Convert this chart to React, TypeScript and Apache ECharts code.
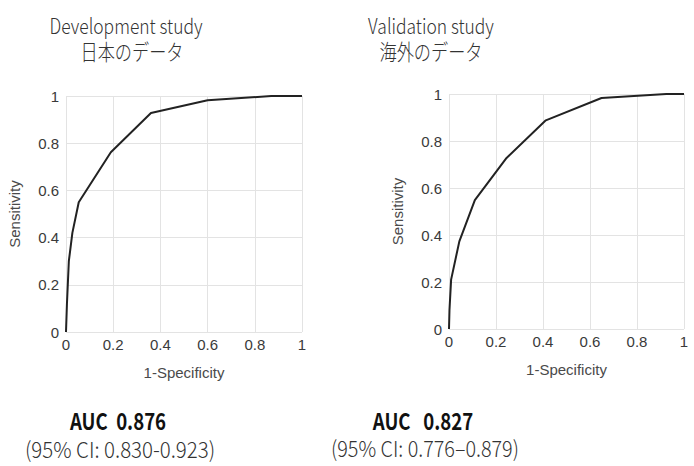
import React, { useEffect, useRef } from "react";
import * as echarts from "echarts";

const devX = [0, 0.004, 0.012, 0.027, 0.054, 0.19, 0.36, 0.6, 0.87, 1];
const devY = [0, 0.12, 0.3, 0.42, 0.55, 0.762, 0.928, 0.982, 1, 1];
const valX = [0, 0.002, 0.009, 0.044, 0.11, 0.245, 0.412, 0.649, 0.925, 1];
const valY = [0, 0.08, 0.21, 0.373, 0.548, 0.728, 0.888, 0.983, 1, 1];

const titles = [
  ["Development study", "日本のデータ"],
  ["Validation study", "海外のデータ"],
];
const aucLabels = ["AUC  0.876", "AUC   0.827"];
const ciLabels = ["(95% CI: 0.830-0.923)", "(95% CI: 0.776\u20130.879)"];
const xName = "1-Specificity";
const yName = "Sensitivity";

const tickFont = "Liberation Sans, Arial, sans-serif";
const jpFont = "Noto Sans CJK JP";

export default function App() {
  const ref = useRef<HTMLDivElement>(null);
  useEffect(() => {
    const chart = echarts.init(ref.current!, null, { renderer: "svg" });
    const grids = [
      { left: 66, top: 96, width: 236, height: 236 },
      { left: 449, top: 94, width: 235, height: 235 },
    ];
    const fmt = (v: number) => String(+v.toFixed(1));
    const mkX = (i: number) => ({
      type: "value",
      gridIndex: i,
      min: 0,
      max: 1,
      interval: 0.2,
      name: xName,
      nameLocation: "middle",
      nameGap: 33,
      nameTextStyle: { fontFamily: tickFont, fontSize: 15, color: "#4a4a4a" },
      axisLine: { show: false },
      axisTick: { show: false },
      axisLabel: { fontFamily: tickFont, fontSize: 15, color: "#3a3a3a", margin: 5, formatter: fmt },
      splitLine: { show: true, lineStyle: { color: "#e3e3e3", width: 1 } },
    });
    const mkY = (i: number) => ({
      type: "value",
      gridIndex: i,
      min: 0,
      max: 1,
      interval: 0.2,
      name: yName,
      nameLocation: "middle",
      nameGap: 44,
      nameRotate: 90,
      nameTextStyle: { fontFamily: tickFont, fontSize: 15, color: "#4a4a4a" },
      axisLine: { show: false },
      axisTick: { show: false },
      axisLabel: { fontFamily: tickFont, fontSize: 15, color: "#3a3a3a", margin: 7, formatter: fmt },
      splitLine: { show: true, lineStyle: { color: "#e3e3e3", width: 1 } },
    });
    const t1Centers = [126, 431];
    const t2Centers = [132, 431];
    const aucCenters = [118, 423];
    const ciCenters = [120, 425];
    const ciScales = [0.93, 0.9];
    const graphics: any[] = [];
    [0, 1].forEach((i) => {
      graphics.push({
        type: "text",
        x: t1Centers[i],
        y: 25,
        scaleX: 0.83,
        style: { text: titles[i][0], fontFamily: jpFont, fontSize: 21, fontWeight: 300, fill: "#333", align: "center", verticalAlign: "middle" },
      });
      graphics.push({
        type: "text",
        x: t2Centers[i],
        y: 51,
        scaleX: 0.78,
        style: { text: titles[i][1], fontFamily: jpFont, fontSize: 22, fontWeight: 300, fill: "#333", align: "center", verticalAlign: "middle" },
      });
      graphics.push({
        type: "text",
        x: aucCenters[i],
        y: 420,
        scaleX: 0.81,
        style: {
          text: aucLabels[i],
          fontFamily: jpFont,
          fontSize: 23,
          fontWeight: "bold",
          fill: "#111",
          align: "center",
          verticalAlign: "middle",
        },
      });
      graphics.push({
        type: "text",
        x: ciCenters[i],
        y: 448,
        scaleX: ciScales[i],
        style: { text: ciLabels[i], fontFamily: jpFont, fontSize: 22, fontWeight: 300, fill: "#333", align: "center", verticalAlign: "middle" },
      });
    });
    const toPts = (xs: number[], ys: number[]) => xs.map((x, k) => [x, ys[k]]);
    chart.setOption({
      animation: false,
      backgroundColor: "#fff",
      grid: grids,
      xAxis: [mkX(0), mkX(1)],
      yAxis: [mkY(0), mkY(1)],
      series: [
        { type: "line", xAxisIndex: 0, yAxisIndex: 0, data: toPts(devX, devY), showSymbol: false, lineStyle: { color: "#222", width: 2 } },
        { type: "line", xAxisIndex: 1, yAxisIndex: 1, data: toPts(valX, valY), showSymbol: false, lineStyle: { color: "#222", width: 2 } },
      ],
      graphic: graphics,
    });
    return () => chart.dispose();
  }, []);
  return <div ref={ref} style={{ width: 694, height: 466, position: "absolute", left: 0, top: 0 }} />;
}
